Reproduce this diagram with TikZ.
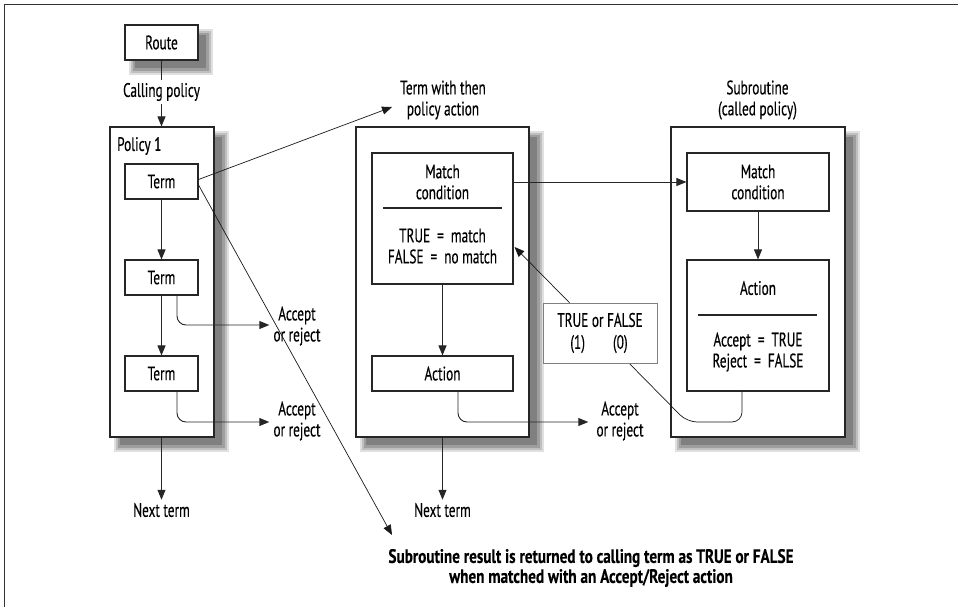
\documentclass[tikz,border=0pt]{standalone}
\usepackage{fontspec}
\setmainfont{PT Sans}[FakeStretch=0.68,FakeBold=0.35,
  BoldFeatures={FakeStretch=0.78,FakeBold=0.2}]
\usetikzlibrary{arrows.meta,calc}

\newcommand\eqsign{\hspace{7pt}=\hspace{7pt}}

\begin{document}
\begin{tikzpicture}[x=1pt,y=-1pt,
  font=\fontsize{19.5}{21}\selectfont,
  every node/.style={inner sep=0pt},
  shadowbox/.style={draw=black!85, line width=1.1pt, fill=white},
  innerbox/.style={draw=black!85, line width=1.1pt, fill=white},
  label/.style={align=center, inner sep=2pt},
  conn/.style={line width=0.9pt, draw=black!85},
  arr/.style={conn, -{Triangle[length=10pt,width=8pt]}},
  thin arr/.style={line width=0.7pt, draw=black!90, -{Triangle[length=10pt,width=8pt]}},
]
\useasboundingbox (0,0) rectangle (958,607);

% page frame (open at right and bottom)
\draw[line width=1pt, black!80] (4,607) -- (4,5) -- (958,5);

% soft drop shadows: nested grey rectangles behind each outer box
\fill[black!12] (129,29) rectangle (213,75);
\fill[black!25] (131,31) rectangle (211,73);
\fill[black!38] (133,33) rectangle (209,71);
\fill[black!50] (135,35) rectangle (206,68);

\fill[black!12] (114,131) rectangle (229,452);
\fill[black!25] (116,133) rectangle (227,450);
\fill[black!38] (118,135) rectangle (225,448);
\fill[black!50] (120,137) rectangle (222,445);

\fill[black!12] (360,131) rectangle (544,452);
\fill[black!25] (362,133) rectangle (542,450);
\fill[black!38] (364,135) rectangle (540,448);
\fill[black!50] (366,137) rectangle (537,445);

\fill[black!12] (675,131) rectangle (860,452);
\fill[black!25] (677,133) rectangle (858,450);
\fill[black!38] (679,135) rectangle (856,448);
\fill[black!50] (681,137) rectangle (853,445);

% ---- calling policy column ----
\node[shadowbox, minimum width=73pt, minimum height=35pt] (route) at (161.5,42.5) {Route};
\node[shadowbox, minimum width=104pt, minimum height=310pt] (policy) at (162,282) {};
\node[anchor=west] (policylbl) at (117,146) {Policy 1};
\node[innerbox, minimum width=73pt, minimum height=35pt] (term1) at (161.5,181.5) {Term};
\node[innerbox, minimum width=73pt, minimum height=35pt] (term2) at (161.5,277.5) {Term};
\node[innerbox, minimum width=73pt, minimum height=35pt] (term3) at (161.5,373.5) {Term};

\node[fill=white, inner ysep=3pt, inner xsep=1pt] (calling) at (161.5,92) {Calling policy};
\draw[conn] (route) -- (calling);
\draw[arr] (calling) -- (policy.north -| calling);

\draw[arr] (term1) -- (term2);
\draw[arr] (term2) -- (term3);

\node[label] (acc1) at (297,326) {Accept\\or reject};
\node[label] (acc2) at (297,421) {Accept\\or reject};
\draw[arr, rounded corners=9pt] ($(term2.south)+(15.5,0)$) |- ($(acc1.west)+(-2,-1)$);
\draw[arr, rounded corners=9pt] ($(term3.south)+(15.5,0)$) |- ($(acc2.west)+(-2,1)$);

\node[label, inner sep=3pt] (next1) at (161.5,510) {Next term};
\draw[arr] (policy.south -| next1) -- (next1.north);

% ---- term with then policy action ----
\node[label] (twp) at (443,100) {Term with then\\policy action};
\node[shadowbox, minimum width=173pt, minimum height=310pt] (mid) at (442.5,282) {};
\node[innerbox, minimum width=141pt, minimum height=131pt] (matchM) at (442.5,218.5) {};
\node[label] (matchMtxt) at (442.5,182) {Match\\condition};
\draw[line width=1.1pt, black!85] (383,208) -- (502,208);
\node[label] (matchMres) at (442.5,246) {TRUE\eqsign match\\FALSE\eqsign no match};
\node[innerbox, minimum width=141pt, minimum height=35pt] (actionM) at (442.5,373.5) {Action};
\draw[arr] (matchM) -- (actionM);

\node[label] (acc3) at (620,421) {Accept\\or reject};
\draw[arr, rounded corners=9pt, shorten >=6pt] ($(actionM.south)+(15.5,0)$) |- ($(acc3.west)+(0,1)$);

\node[label, inner sep=3pt] (next2) at (442.5,510) {Next term};
\draw[arr] (mid.south -| next2) -- (next2.north);

% ---- subroutine (called policy) ----
\node[label] (subl) at (757.5,100) {Subroutine\\(called policy)};
\node[shadowbox, minimum width=174pt, minimum height=310pt] (sub) at (758,282) {};
\node[innerbox, minimum width=142pt, minimum height=58pt, align=center] (matchS) at (758,182) {Match\\condition};
\node[innerbox, minimum width=142pt, minimum height=131pt] (actionS) at (758,325.5) {};
\node[label] (actionStxt) at (758,288) {Action};
\draw[line width=1.1pt, black!85] (698,315) -- (817,315);
\node[label] (actionSres) at (758,352) {Accept\eqsign TRUE\\Reject\eqsign FALSE};
\draw[arr] (matchS) -- (actionS);

% call into the subroutine
\draw[arr] (matchS.west -| matchM.east) -- (matchS.west);

% result returned to the calling term
\coordinate (bend) at (687,422);
\coordinate (ret) at ($(matchM.east)+(1,28.5)$);
\draw[thin arr, rounded corners=10pt] ($(actionS.south)+(-16,0)$) |- (bend) -- (ret);
\node[draw=black!50, line width=0.9pt, fill=white, minimum width=114pt, minimum height=60pt, align=center]
  (tf) at (600,333) {TRUE or FALSE\\[1pt]\hspace*{-2pt}(1)\hspace{28pt}(0)};

% term 1 branches
\draw[thin arr] ($(term1.east)+(0,-2)$) -- ($(twp.west)+(-6,7)$);
\node[font=\fontsize{19.5}{20}\selectfont\bfseries, align=center] (res) at (591,568)
  {Subroutine result is returned to calling term as TRUE or FALSE\\when matched with an Accept/Reject action};
\coordinate (restip) at (392,535);
\draw[thin arr] ($(term1.east)+(0,3.5)$) -- (restip);
\end{tikzpicture}
\end{document}
